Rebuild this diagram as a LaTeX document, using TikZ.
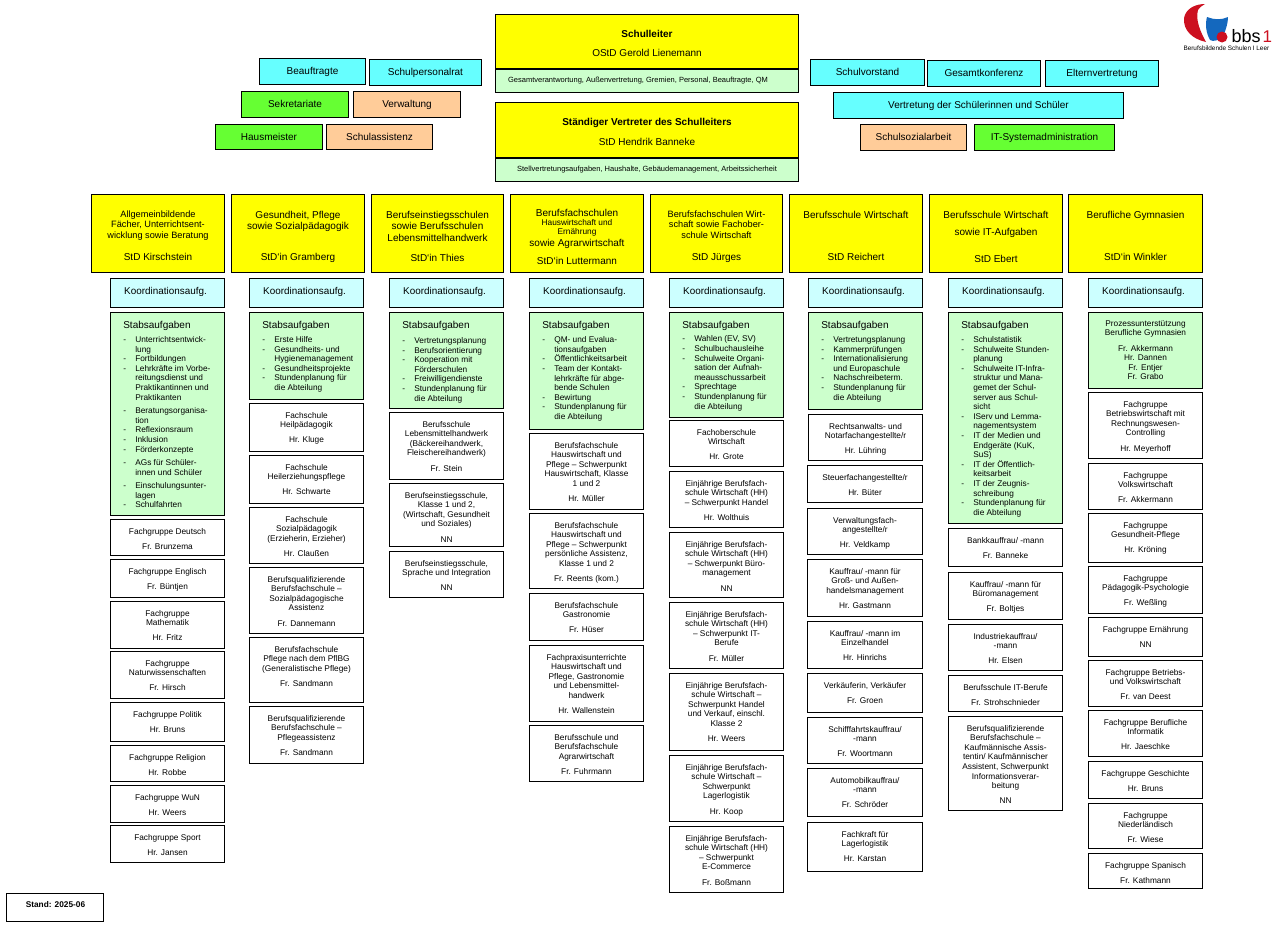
\documentclass[tikz,border=0pt]{standalone}
\usepackage{fontspec}
\setmainfont{Liberation Sans}
\definecolor{yellowA}{HTML}{FFFF00}
\definecolor{cyanA}{HTML}{66FFFF}
\definecolor{cyanB}{HTML}{CCFFFF}
\definecolor{greenA}{HTML}{66FF33}
\definecolor{greenB}{HTML}{CCFFCC}
\definecolor{orangeA}{HTML}{FFCC99}
\definecolor{logored}{HTML}{CC1020}
\definecolor{logoblue}{HTML}{1468BE}
\tikzset{
  bs/.style={draw=black,line width=1.3pt,inner sep=0pt,outer sep=0pt},
  wbox/.style={bs,fill=white},
  ybox/.style={bs,fill=yellowA},
  cbox/.style={bs,fill=cyanA},
  kbox/.style={bs,fill=cyanB},
  gbox/.style={bs,fill=greenA},
  sbox/.style={bs,fill=greenB},
  obox/.style={bs,fill=orangeA},
  plain/.style={inner sep=0pt,outer sep=0pt}
}
\newcommand\ym{\fontsize{9.2}{10.4}\selectfont}
\newcommand\yb{\fontsize{10}{11}\selectfont}
\newcommand\ys{\fontsize{8.3}{9.6}\selectfont}
\newcommand\nm{\\[5.6pt]}
\newcommand\bxr[7]{%
  \pgfmathsetmacro\bw{#4-#2-1}\pgfmathsetmacro\bh{#5-#3-1}%
  \pgfmathsetmacro\bxa{#2+.5}\pgfmathsetmacro\bya{#3+.5}%
  \node[#6,anchor=north west] (#1) at (\bxa,\bya)
    {\parbox[c][\bh pt][t]{\bw pt}{\fontsize{8.3}{9.6}\selectfont #7}};}
\newcommand\bx[8][7.8]{\bxr{#2}{#3}{#4}{#5}{#6}{#7}{\centering\vspace*{#1pt}\rule{0pt}{6.7pt}#8}}
\newcommand\stb[8][5.5]{\bxr{#2}{#3}{#4}{#5}{#6}{sbox}{\raggedright\leftskip=12.8pt\vspace*{#1pt}\noindent{\fontsize{10}{12}\selectfont\rule{0pt}{10pt}Stabsaufgaben}\par\vspace{#7pt}#8}}
\newcommand\si[1]{\par\begingroup\def\\{\break}\hangindent=12pt\hangafter=1\noindent\hbox to 12pt{-\hfill}#1\par\endgroup}
\newcommand\igap{\vspace{3.9pt}}
\newcommand\ko[3]{\bx[9]{#1}{#2}{278}{#3}{308}{kbox}{\fontsize{9.9}{11}\selectfont Koordinationsaufg.\kern4pt}}
\begin{document}
\begin{tikzpicture}[x=1pt,y=-1pt]
\useasboundingbox (0,0) rectangle (1277,929);
% --- top centre
\bx[16.2]{sl}{495}{14}{799}{69}{ybox}{\yb\textbf{Schulleiter}\\[8pt]OStD Gerold Lienemann}
\bx[6.5]{slg}{495}{69}{799}{93}{sbox}{\fontsize{7.5}{8}\selectfont Gesamtverantwortung, Außenvertretung, Gremien, Personal, Beauftragte, QM\kern18pt}
\bx[15.3]{sv}{495}{102}{799}{158}{ybox}{\yb\textbf{Ständiger Vertreter des Schulleiters}\\[9pt]StD Hendrik Banneke}
\bx[6.5]{svg}{495}{158}{799}{182}{sbox}{\fontsize{7.5}{8}\selectfont Stellvertretungsaufgaben, Haushalte, Gebäudemanagement, Arbeitssicherheit}
% --- top left
\bx[8.8]{bea}{259}{58}{366}{85}{cbox}{\yb Beauftragte}
\bx[8.3]{spr}{369}{59}{482}{86}{cbox}{\yb Schulpersonalrat}
\bx[8.3]{sek}{241}{91}{349}{118}{gbox}{\yb Sekretariate}
\bx[8.3]{ver}{353}{91}{461}{118}{obox}{\yb Verwaltung}
\bx[8.3]{hau}{215}{124}{323}{150}{gbox}{\yb Hausmeister}
\bx[8.3]{ass}{326}{124}{433}{150}{obox}{\yb Schulassistenz}
% --- top right
\bx[8.3]{svo}{810}{59}{925}{86}{cbox}{\yb Schulvorstand}
\bx[8.3]{gek}{927}{60}{1041}{87}{cbox}{\yb Gesamtkonferenz}
\bx[8.3]{elt}{1045}{60}{1159}{87}{cbox}{\yb Elternvertretung}
\bx[8.3]{sus}{833}{92}{1124}{119}{cbox}{\yb Vertretung der Schülerinnen und Schüler}
\bx[8.3]{soz}{860}{124}{967}{151}{obox}{\yb Schulsozialarbeit}
\bx[8.3]{ita}{974}{124}{1115}{151}{gbox}{\yb IT-Systemadministration}
% --- department heads
\bx[16]{h1}{91}{194}{225}{273}{ybox}{\ym Allgemeinbildende\\Fächer, Unterrichtsent-\\wicklung sowie Beratung\\[11.5pt]\yb StD Kirschstein}
\bx[16.7]{h2}{231}{194}{365}{273}{ybox}{\yb Gesundheit, Pflege\\sowie Sozialpädagogik\\[19.7pt]StD`in Gramberg}
\bx[16.7]{h3}{371}{194}{504}{273}{ybox}{\yb Berufseinstiegsschulen\\sowie Berufsschulen\\[.6pt]Lebensmittelhandwerk\\[9.7pt]StD`in Thies}
\bx[14.6]{h4}{510}{194}{644}{273}{ybox}{\yb Berufsfachschulen\\[-.6pt]\ys Hauswirtschaft und\\[-.2pt]Ernährung\\[.7pt]\yb sowie Agrarwirtschaft\\[6.7pt]StD`in Luttermann}
\bx[16]{h5}{650}{194}{783}{273}{ybox}{\ym Berufsfachschulen Wirt-\\schaft sowie Fachober-\\schule Wirtschaft\\[11pt]\yb StD Jürges}
\bx[16.7]{h6}{789}{194}{923}{273}{ybox}{\yb Berufsschule Wirtschaft\\[31pt]StD Reichert}
\bx[16.7]{h7}{929}{194}{1063}{273}{ybox}{\yb Berufsschule Wirtschaft\\[6pt]sowie IT-Aufgaben\\[16pt]StD Ebert}
\bx[16.7]{h8}{1068}{194}{1203}{273}{ybox}{\yb Berufliche Gymnasien\\[31pt]StD`in Winkler}
% --- Koordination
\ko{k1}{110}{225}\ko{k2}{249}{364}\ko{k3}{389}{504}\ko{k4}{529}{644}
\ko{k5}{669}{784}\ko{k6}{808}{923}\ko{k7}{948}{1063}\ko{k8}{1088}{1203}
% --- Stabsaufgaben
\stb{s1}{110}{312}{225}{516}{4.9}{\si{Unterrichtsentwick-\\lung}\si{Fortbildungen}\si{Lehrkräfte im Vorbe-\\reitungsdienst und\\Praktikantinnen und\\Praktikanten}\igap\si{Beratungsorganisa-\\tion}\si{Reflexionsraum}\si{Inklusion}\si{Förderkonzepte}\igap\si{AGs für Schüler-\\innen und Schüler}\igap\si{Einschulungsunter-\\lagen}\si{Schulfahrten}}
\stb{s2}{249}{312}{364}{400}{4.9}{\si{Erste Hilfe}\si{Gesundheits- und\\Hygienemanagement}\si{Gesundheitsprojekte}\si{Stundenplanung für\\die Abteilung}}
\stb[6.4]{s3}{389}{312}{504}{409}{5}{\si{Vertretungsplanung}\si{Berufsorientierung}\si{Kooperation mit\\Förderschulen}\si{Freiwilligendienste}\si{Stundenplanung für\\die Abteilung}}
\stb{s4}{529}{312}{644}{430}{5}{\si{QM- und Evalua-\\tionsaufgaben}\si{Öffentlichkeitsarbeit}\si{Team der Kontakt-\\lehrkräfte für abge-\\bende Schulen}\si{Bewirtung}\si{Stundenplanung für\\die Abteilung}}
\stb{s5}{669}{312}{784}{418}{4.2}{\si{Wahlen (EV, SV)}\si{Schulbuchausleihe}\si{Schulweite Organi-\\sation der Aufnah-\\meausschussarbeit}\si{Sprechtage}\si{Stundenplanung für\\die Abteilung}}
\stb{s6}{808}{312}{923}{410}{4.9}{\si{Vertretungsplanung}\si{Kammerprüfungen}\si{Internationalisierung\\und Europaschule}\si{Nachschreibeterm.}\si{Stundenplanung für\\die Abteilung}}
\stb{s7}{948}{312}{1063}{524}{4.9}{\si{Schulstatistik}\si{Schulweite Stunden-\\planung}\si{Schulweite IT-Infra-\\struktur und Mana-\\gemet der Schul-\\server aus Schul-\\sicht}\si{IServ und Lemma-\\nagementsystem}\si{IT der Medien und\\Endgeräte (KuK,\\SuS)}\si{IT der Öffentlich-\\keitsarbeit}\si{IT der Zeugnis-\\schreibung}\si{Stundenplanung für\\die Abteilung}}
\bx[7]{s8}{1088}{312}{1203}{389}{sbox}{Prozessunterstützung\\Berufliche Gymnasien\nm Fr. Akkermann\\Hr. Dannen\\Fr. Entjer\\Fr. Grabo}
% --- column 1
\bx{a1}{110}{519}{225}{556}{wbox}{Fachgruppe Deutsch\nm Fr. Brunzema}
\bx{a2}{110}{559}{225}{598}{wbox}{Fachgruppe Englisch\nm Fr. Büntjen}
\bx{a3}{110}{601}{225}{649}{wbox}{Fachgruppe\\Mathematik\nm Hr. Fritz}
\bx{a4}{110}{651}{225}{699}{wbox}{Fachgruppe\\Naturwissenschaften\nm Fr. Hirsch}
\bx{a5}{110}{702}{225}{742}{wbox}{Fachgruppe Politik\nm Hr. Bruns}
\bx{a6}{110}{745}{225}{782}{wbox}{Fachgruppe Religion\nm Hr. Robbe}
\bx{a7}{110}{785}{225}{823}{wbox}{Fachgruppe WuN\nm Hr. Weers}
\bx{a8}{110}{825}{225}{863}{wbox}{Fachgruppe Sport\nm Hr. Jansen}
% --- column 2
\bx{b1}{249}{403}{364}{452}{wbox}{Fachschule\\Heilpädagogik\nm Hr. Kluge}
\bx{b2}{249}{455}{364}{504}{wbox}{Fachschule\\Heilerziehungspflege\nm Hr. Schwarte}
\bx{b3}{249}{507}{364}{564}{wbox}{Fachschule\\Sozialpädagogik\\(Erzieherin, Erzieher)\nm Hr. Claußen}
\bx{b4}{249}{567}{364}{634}{wbox}{Berufsqualifizierende\\Berufsfachschule –\\Sozialpädagogische\\Assistenz\nm Fr. Dannemann}
\bx{b5}{249}{637}{364}{703}{wbox}{Berufsfachschule\\Pflege nach dem PflBG\\(Generalistische Pflege)\nm Fr. Sandmann}
\bx{b6}{249}{706}{364}{764}{wbox}{Berufsqualifizierende\\Berufsfachschule –\\Pflegeassistenz\nm Fr. Sandmann}
% --- column 3
\bx{c1}{389}{412}{504}{480}{wbox}{Berufsschule\\Lebensmittelhandwerk\\(Bäckereihandwerk,\\Fleischereihandwerk)\nm Fr. Stein}
\bx{c2}{389}{483}{504}{547}{wbox}{Berufseinstiegsschule,\\Klasse 1 und 2,\\(Wirtschaft, Gesundheit\\und Soziales)\nm NN}
\bx{c3}{389}{551}{504}{598}{wbox}{Berufseinstiegsschule,\\Sprache und Integration\nm NN}
% --- column 4
\bx{d1}{529}{433}{644}{510}{wbox}{Berufsfachschule\\Hauswirtschaft und\\Pflege – Schwerpunkt\\Hauswirtschaft, Klasse\\1 und 2\nm Hr. Müller}
\bx{d2}{529}{513}{644}{589}{wbox}{Berufsfachschule\\Hauswirtschaft und\\Pflege – Schwerpunkt\\persönliche Assistenz,\\Klasse 1 und 2\nm Fr. Reents (kom.)}
\bx{d3}{529}{593}{644}{641}{wbox}{Berufsfachschule\\Gastronomie\nm Fr. Hüser}
\bx{d4}{529}{645}{644}{722}{wbox}{Fachpraxisunterrichte\\Hauswirtschaft und\\Pflege, Gastronomie\\und Lebensmittel-\\handwerk\nm Hr. Wallenstein}
\bx{d5}{529}{725}{644}{782}{wbox}{Berufsschule und\\Berufsfachschule\\Agrarwirtschaft\nm Fr. Fuhrmann}
% --- column 5
\bx{e1}{669}{420}{784}{467}{wbox}{Fachoberschule\\Wirtschaft\nm Hr. Grote}
\bx{e2}{669}{471}{784}{528}{wbox}{Einjährige Berufsfach-\\schule Wirtschaft (HH)\\– Schwerpunkt Handel\nm Hr. Wolthuis}
\bx{e3}{669}{532}{784}{598}{wbox}{Einjährige Berufsfach-\\schule Wirtschaft (HH)\\– Schwerpunkt Büro-\\management\nm NN}
\bx{e4}{669}{602}{784}{669}{wbox}{Einjährige Berufsfach-\\schule Wirtschaft (HH)\\– Schwerpunkt IT-\\Berufe\nm Fr. Müller}
\bx{e5}{669}{673}{784}{751}{wbox}{Einjährige Berufsfach-\\schule Wirtschaft –\\Schwerpunkt Handel\\und Verkauf, einschl.\\Klasse 2\nm Hr. Weers}
\bx{e6}{669}{755}{784}{822}{wbox}{Einjährige Berufsfach-\\schule Wirtschaft –\\Schwerpunkt\\Lagerlogistik\nm Hr. Koop}
\bx{e7}{669}{826}{784}{893}{wbox}{Einjährige Berufsfach-\\schule Wirtschaft (HH)\\– Schwerpunkt\\E-Commerce\nm Fr. Boßmann}
% --- column 6
\bx{f1}{808}{414}{923}{461}{wbox}{Rechtsanwalts- und\\Notarfachangestellte/r\nm Hr. Lühring}
\bx{f2}{807}{465}{923}{503}{wbox}{Steuerfachangestellte/r\nm Hr. Büter}
\bx{f3}{807}{508}{923}{555}{wbox}{Verwaltungsfach-\\angestellte/r\nm Hr. Veldkamp}
\bx{f4}{807}{559}{923}{617}{wbox}{Kauffrau/ -mann für\\Groß- und Außen-\\handelsmanagement\nm Hr. Gastmann}
\bx{f5}{807}{621}{923}{669}{wbox}{Kauffrau/ -mann im\\Einzelhandel\nm Hr. Hinrichs}
\bx{f6}{807}{673}{923}{713}{wbox}{Verkäuferin, Verkäufer\nm Fr. Groen}
\bx{f7}{807}{717}{923}{764}{wbox}{Schifffahrtskauffrau/\\-mann\nm Fr. Woortmann}
\bx{f8}{807}{768}{923}{817}{wbox}{Automobilkauffrau/\\-mann\nm Fr. Schröder}
\bx{f9}{807}{822}{923}{872}{wbox}{Fachkraft für\\Lagerlogistik\nm Hr. Karstan}
% --- column 7
\bx{g1}{948}{528}{1063}{567}{wbox}{Bankkauffrau/ -mann\nm Fr. Banneke}
\bx{g2}{948}{572}{1063}{620}{wbox}{Kauffrau/ -mann für\\Büromanagement\nm Fr. Boltjes}
\bx{g3}{948}{624}{1063}{671}{wbox}{Industriekauffrau/\\-mann\nm Hr. Elsen}
\bx{g4}{948}{675}{1063}{712}{wbox}{Berufsschule IT-Berufe\nm Fr. Strohschnieder}
\bx{g5}{948}{716}{1063}{811}{wbox}{Berufsqualifizierende\\Berufsfachschule –\\Kaufmännische Assis-\\tentin/ Kaufmännischer\\Assistent, Schwerpunkt\\Informationsverar-\\beitung\nm NN}
% --- column 8
\bx{i1}{1088}{392}{1203}{459}{wbox}{Fachgruppe\\Betriebswirtschaft mit\\Rechnungswesen-\\Controlling\nm Hr. Meyerhoff}
\bx{i2}{1088}{463}{1203}{510}{wbox}{Fachgruppe\\Volkswirtschaft\nm Fr. Akkermann}
\bx{i3}{1088}{513}{1203}{563}{wbox}{Fachgruppe\\Gesundheit-Pflege\nm Hr. Kröning}
\bx{i4}{1088}{566}{1203}{614}{wbox}{Fachgruppe\\Pädagogik-Psychologie\nm Fr. Weßling}
\bx{i5}{1088}{617}{1203}{657}{wbox}{Fachgruppe Ernährung\nm NN}
\bx{i6}{1088}{660}{1203}{707}{wbox}{Fachgruppe Betriebs-\\und Volkswirtschaft\nm Fr. van Deest}
\bx{i7}{1088}{710}{1203}{757}{wbox}{Fachgruppe Berufliche\\Informatik\nm Hr. Jaeschke}
\bx{i8}{1088}{761}{1203}{799}{wbox}{Fachgruppe Geschichte\nm Hr. Bruns}
\bx{i9}{1088}{803}{1203}{849}{wbox}{Fachgruppe\\Niederländisch\nm Fr. Wiese}
\bx{i10}{1088}{853}{1203}{889}{wbox}{Fachgruppe Spanisch\nm Fr. Kathmann}
% --- stand
\bx[7.3]{stand}{6}{893}{104}{922}{wbox}{\textbf{Stand: 2025-06}\kern-1pt}
% --- logo
\fill[logored] (1205,4) .. controls (1196,4) and (1186,8) .. (1184,18) .. controls (1183,30) and (1192,39) .. (1206,42) .. controls (1201,33) and (1195,20) .. (1198,10) .. controls (1200,7) and (1203,5) .. (1205,4) -- cycle;
\fill[logoblue] (1228,17) .. controls (1222,20) and (1214,20) .. (1207,17) .. controls (1205,24) and (1206,33) .. (1210,40) .. controls (1213,42) and (1220,41) .. (1224,34) .. controls (1226,29) and (1228,23) .. (1228,17) -- cycle;
\fill[logored] (1222,37) circle (5.5);
\node[plain,anchor=base west] (bbs) at (1231.5,42) {\fontsize{18}{18}\selectfont bbs};
\node[plain,anchor=base west] (one) at (1262.5,42) {\fontsize{17}{18}\selectfont\textcolor{logored}{1}};
\node[plain,anchor=base west] (cap) at (1183.5,50.5) {\fontsize{6.4}{7}\selectfont Berufsbildende Schulen I Leer};
\end{tikzpicture}
\end{document}
